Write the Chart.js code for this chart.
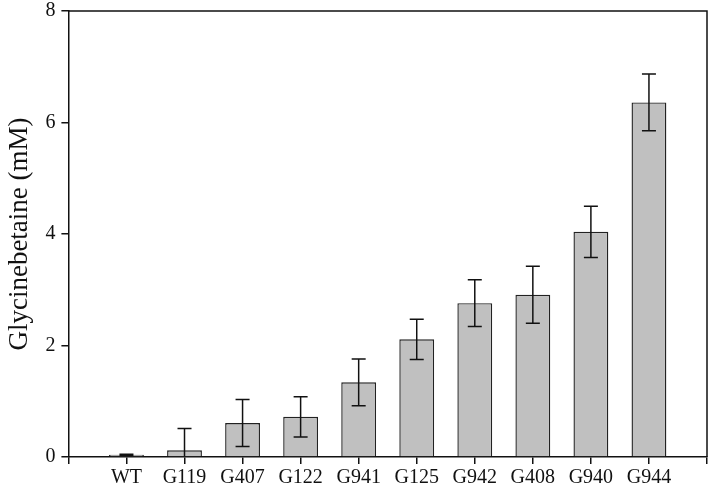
<!DOCTYPE html>
<html>
<head>
<meta charset="utf-8">
<script src="https://cdn.jsdelivr.net/npm/chart.js@4"></script>
<style>
html,body{margin:0;padding:0;background:#fff;}
#wrap{width:709px;height:492px;position:relative;}
</style>
</head>
<body>
<div id="wrap"><canvas id="c" width="709" height="492"></canvas></div>
<script>
const categories = ['', 'WT', 'G119', 'G407', 'G122', 'G941', 'G125', 'G942', 'G408', 'G940', 'G944', ''];
const means = [null, 0.04, 0.12, 0.61, 0.72, 1.34, 2.11, 2.76, 2.91, 4.04, 6.36, null];
const errors = [null, 0.01, 0.39, 0.42, 0.36, 0.42, 0.36, 0.42, 0.51, 0.46, 0.51, null];
const yTicks = [0, 2, 4, 6, 8];

const errorBars = {
  id: 'errorBars',
  afterDatasetsDraw(chart) {
    const ctx = chart.ctx, ys = chart.scales.y, area = chart.chartArea;
    const meta = chart.getDatasetMeta(0);
    ctx.save();
    ctx.beginPath();
    ctx.rect(area.left, area.top - 2, area.right - area.left, area.bottom - area.top + 1);
    ctx.clip();
    ctx.strokeStyle = '#111';
    ctx.lineWidth = 1.5;
    meta.data.forEach((bar, i) => {
      if (means[i] == null) return;
      const x = bar.x;
      const yt = ys.getPixelForValue(means[i] + errors[i]);
      const yb = ys.getPixelForValue(means[i] - errors[i]);
      const cw = 7;
      ctx.beginPath();
      ctx.moveTo(x, yt); ctx.lineTo(x, yb);
      ctx.moveTo(x - cw, yt); ctx.lineTo(x + cw, yt);
      ctx.moveTo(x - cw, yb); ctx.lineTo(x + cw, yb);
      ctx.stroke();
    });
    ctx.restore();
  }
};

const frame = {
  id: 'frame',
  afterDraw(chart) {
    const ctx = chart.ctx, a = chart.chartArea;
    ctx.save();
    ctx.strokeStyle = '#111';
    ctx.lineWidth = 1.5;
    ctx.beginPath();
    ctx.moveTo(a.left, a.top); ctx.lineTo(a.right, a.top); ctx.lineTo(a.right, a.bottom);
    ctx.stroke();
    ctx.restore();
  }
};

new Chart(document.getElementById('c'), {
  type: 'bar',
  data: {
    labels: categories,
    datasets: [{
      data: means,
      backgroundColor: '#c0c0c0',
      borderColor: '#222',
      borderWidth: 1.4,
      barPercentage: 0.6,
      categoryPercentage: 1.0
    }]
  },
  options: {
    responsive: false,
    animation: false,
    devicePixelRatio: 1,
    layout: { padding: { top: 0, right: 2, left: 4, bottom: 0 } },
    plugins: { legend: { display: false }, tooltip: { enabled: false } },
    scales: {
      x: {
        offset: false,
        grid: { display: true, offset: false, drawOnChartArea: false, drawTicks: true, tickLength: 7, color: '#111', lineWidth: 1.5 },
        border: { display: true, color: '#111', width: 1.5 },
        ticks: { color: '#111', autoSkip: false, maxRotation: 0, padding: 2,
                 font: { family: 'Liberation Serif', size: 20 } }
      },
      y: {
        min: 0, max: 8,
        afterBuildTicks(scale) { scale.ticks = yTicks.map(v => ({ value: v })); },
        grid: { display: true, drawOnChartArea: false, drawTicks: true, tickLength: 7, color: '#111', lineWidth: 1.5 },
        border: { display: true, color: '#111', width: 1.5 },
        ticks: { color: '#111', padding: 6, font: { family: 'Liberation Serif', size: 20, lineHeight: 0.5 } },
        title: { display: true, text: 'Glycinebetaine (mM)', color: '#111', padding: { top: 0, bottom: 3 },
                 font: { family: 'Liberation Serif', size: 27 } }
      }
    }
  },
  plugins: [errorBars, frame]
});
</script>
</body>
</html>
